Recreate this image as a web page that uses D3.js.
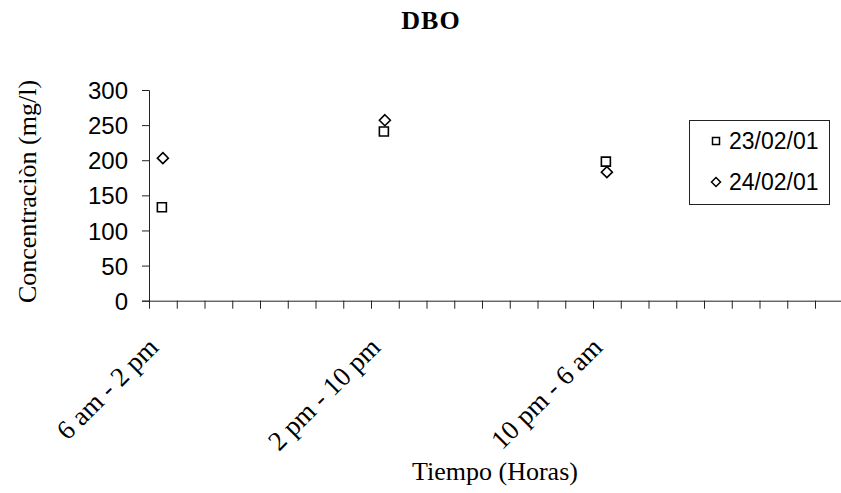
<!DOCTYPE html>
<html>
<head>
<meta charset="utf-8">
<script src="https://cdn.jsdelivr.net/npm/d3@7"></script>
<style>
  html, body { margin: 0; padding: 0; background: #fff; }
  svg { display: block; }
</style>
</head>
<body>
<svg id="chart" width="841" height="493"></svg>
<script>
// Sampling periods and the slot each one occupies on the 25-slot category axis
const periods = ["6 am - 2 pm", "2 pm - 10 pm", "10 pm - 6 am"];
const periodSlots = [0, 8, 16];
const slotCount = 25;

// DBO concentration (mg/l) per sampling day
const seriesNames = ["23/02/01", "24/02/01"];
const dbo230201 = [133, 241, 198];
const dbo240201 = [203, 257, 183];

const yTicks = [0, 50, 100, 150, 200, 250, 300];

(function draw() {
  const svg = d3.select("#chart");
  const plotLeft = 149, plotRight = 842.75, plotTop = 90, plotBottom = 300.7;

  const slotBand = d3.scaleBand().domain(d3.range(slotCount)).range([plotLeft, plotRight]).padding(0);
  const slotEdge = d3.scaleLinear().domain([0, slotCount]).range([plotLeft, plotRight]);
  const y = d3.scaleLinear().domain([0, 300]).range([plotBottom, plotTop]);

  // Title
  svg.append("text")
    .attr("x", 431).attr("y", 29)
    .attr("text-anchor", "middle")
    .style("font-family", "'Liberation Serif', 'Times New Roman', serif")
    .style("font-weight", "bold")
    .style("font-size", "26px")
    .style("letter-spacing", "1px")
    .text("DBO");

  // Y axis
  const yAxis = svg.append("g")
    .attr("transform", `translate(${plotLeft},0)`)
    .call(d3.axisLeft(y).tickValues(yTicks).tickSize(7).tickPadding(14));
  yAxis.selectAll("text")
    .style("font-family", "'Liberation Sans', Arial, sans-serif")
    .style("font-size", "24px")
    .attr("dy", "0.36em")
    .attr("fill", "#000");
  yAxis.selectAll("line, path").attr("stroke", "#222");

  // X axis: tick at every slot boundary, no tick labels
  const xAxis = svg.append("g")
    .attr("transform", `translate(0,${plotBottom})`)
    .call(d3.axisBottom(slotEdge).tickValues(d3.range(slotCount + 1)).tickSize(8).tickSizeOuter(0).tickFormat(""));
  xAxis.selectAll("line, path").attr("stroke", "#222");

  const cx = i => slotBand(periodSlots[i]) + slotBand.bandwidth() / 2;

  // Rotated period labels, ending under each occupied slot
  svg.append("g").selectAll("text")
    .data(periods)
    .join("text")
    .attr("transform", (d, i) => `translate(${cx(i) - 3},349) rotate(-45)`)
    .attr("text-anchor", "end")
    .style("font-family", "'Liberation Serif', 'Times New Roman', serif")
    .style("font-size", "27px")
    .text(d => d);

  // Axis titles
  svg.append("text")
    .attr("transform", "translate(36,191.5) rotate(-90)")
    .attr("text-anchor", "middle")
    .style("font-family", "'Liberation Serif', 'Times New Roman', serif")
    .style("font-size", "26px")
    .text("Concentraciòn (mg/l)");

  svg.append("text")
    .attr("x", 495).attr("y", 480)
    .attr("text-anchor", "middle")
    .style("font-family", "'Liberation Serif', 'Times New Roman', serif")
    .style("font-size", "26px")
    .text("Tiempo (Horas)");

  // Marker shapes
  const squareSym = d3.symbol().type(d3.symbolSquare);
  const diamondPath = r => `M0,${-r}L${r},0L0,${r}L${-r},0Z`;

  svg.append("g").selectAll("path")
    .data(dbo230201)
    .join("path")
    .attr("transform", (d, i) => `translate(${cx(i) - 1},${y(d)})`)
    .attr("d", squareSym.size(81)())
    .attr("fill", "#fff").attr("stroke", "#000").attr("stroke-width", 1.6);

  svg.append("g").selectAll("path")
    .data(dbo240201)
    .join("path")
    .attr("transform", (d, i) => `translate(${cx(i)},${y(d)})`)
    .attr("d", diamondPath(5.5))
    .attr("fill", "#fff").attr("stroke", "#000").attr("stroke-width", 1.6);

  // Legend
  const lg = svg.append("g");
  lg.append("rect")
    .attr("x", 689.5).attr("y", 120.5).attr("width", 140).attr("height", 84)
    .attr("fill", "#fff").attr("stroke", "#222").attr("stroke-width", 1);
  const legendRows = [141, 182];
  lg.append("path")
    .attr("transform", `translate(716,${legendRows[0]})`)
    .attr("d", squareSym.size(49)())
    .attr("fill", "#fff").attr("stroke", "#000").attr("stroke-width", 1.5);
  lg.append("path")
    .attr("transform", `translate(716,${legendRows[1]})`)
    .attr("d", diamondPath(4.5))
    .attr("fill", "#fff").attr("stroke", "#000").attr("stroke-width", 1.5);
  lg.selectAll("text.lbl")
    .data(seriesNames)
    .join("text")
    .attr("class", "lbl")
    .attr("x", 729).attr("y", (d, i) => legendRows[i] + 8)
    .style("font-family", "'Liberation Sans', Arial, sans-serif")
    .style("font-size", "23px")
    .text(d => d);
})();
</script>
</body>
</html>
